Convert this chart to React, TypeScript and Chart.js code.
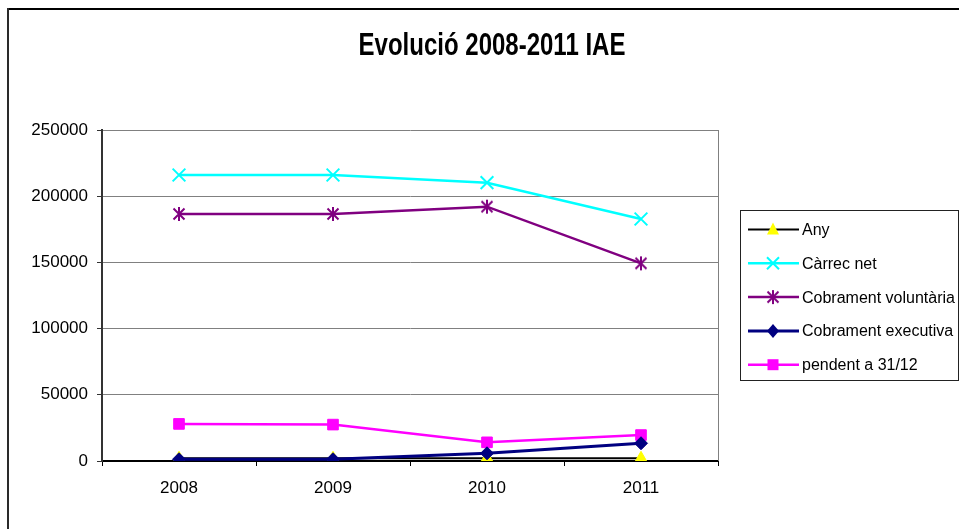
import React, { useEffect, useRef } from "react";
import { Chart, registerables } from "chart.js";

Chart.register(...registerables);

const titleText = "Evolució 2008-2011 IAE";
const categories = ["2008", "2009", "2010", "2011"];
const seriesNames = ["Any", "Càrrec net", "Cobrament voluntària", "Cobrament executiva", "pendent a 31/12"];
const anyValues = [2008, 2009, 2010, 2011];
const carrecNet = [216000, 216000, 210200, 182800];
const cobVoluntaria = [186600, 186600, 192100, 149300];
const cobExecutiva = [1300, 1300, 5800, 13400];
const pendent = [28000, 27500, 14100, 19600];
const yMin = 0;
const yMax = 250000;
const yStep = 50000;

const FONT = '"Liberation Sans", Arial, sans-serif';

function makeStar(color: string): HTMLCanvasElement {
  const c = document.createElement("canvas");
  c.width = 16;
  c.height = 16;
  const g = c.getContext("2d")!;
  g.strokeStyle = color;
  g.lineWidth = 2;
  g.beginPath();
  g.moveTo(8, 1);
  g.lineTo(8, 15);
  g.moveTo(2.5, 2.5);
  g.lineTo(13.5, 13.5);
  g.moveTo(13.5, 2.5);
  g.lineTo(2.5, 13.5);
  g.stroke();
  return c;
}

function drawMarker(ctx: CanvasRenderingContext2D, style: any, x: number, y: number, color: string) {
  ctx.save();
  ctx.fillStyle = color;
  ctx.strokeStyle = color;
  ctx.lineWidth = 2;
  if (style === "triangle") {
    ctx.beginPath();
    ctx.moveTo(x, y - 7);
    ctx.lineTo(x + 6, y + 5);
    ctx.lineTo(x - 6, y + 5);
    ctx.closePath();
    ctx.fill();
  } else if (style === "crossRot") {
    ctx.beginPath();
    ctx.moveTo(x - 6, y - 6);
    ctx.lineTo(x + 6, y + 6);
    ctx.moveTo(x + 6, y - 6);
    ctx.lineTo(x - 6, y + 6);
    ctx.stroke();
  } else if (style === "rectRot") {
    ctx.beginPath();
    ctx.moveTo(x, y - 7);
    ctx.lineTo(x + 6, y);
    ctx.lineTo(x, y + 7);
    ctx.lineTo(x - 6, y);
    ctx.closePath();
    ctx.fill();
  } else if (style === "rect") {
    ctx.fillRect(x - 5.5, y - 5.5, 11, 11);
  } else if (style instanceof HTMLCanvasElement) {
    ctx.drawImage(style, x - style.width / 2, y - style.height / 2);
  }
  ctx.restore();
}

const decorPlugin = {
  id: "decor",
  beforeDraw(chart: any) {
    const ctx = chart.ctx as CanvasRenderingContext2D;
    ctx.save();
    ctx.fillStyle = "#ffffff";
    ctx.fillRect(0, 0, chart.width, chart.height);
    // outer frame
    ctx.fillStyle = "#000";
    ctx.fillRect(8, 8, chart.width - 8, 2);
    ctx.fillStyle = "#2a2a2a";
    ctx.fillRect(7, 8, 2, chart.height - 8);
    // title
    ctx.fillStyle = "#000";
    ctx.font = "bold 24px " + FONT;
    ctx.textAlign = "center";
    ctx.textBaseline = "middle";
    ctx.translate(492, 46);
    ctx.scale(1, 1.32);
    ctx.fillText(titleText, 0, 0);
    ctx.restore();
  },
  afterDraw(chart: any) {
    const ctx = chart.ctx as CanvasRenderingContext2D;
    const a = chart.chartArea;
    ctx.save();
    // right plot border
    ctx.strokeStyle = "#808080";
    ctx.lineWidth = 1;
    ctx.beginPath();
    ctx.moveTo(a.right + 0.5, a.top);
    ctx.lineTo(a.right + 0.5, a.bottom);
    ctx.stroke();
    // legend
    const lx = 740, ly = 210, lw = 218, lh = 170;
    ctx.strokeStyle = "#222";
    ctx.lineWidth = 1;
    ctx.strokeRect(lx + 0.5, ly + 0.5, lw, lh);
    ctx.font = "16px " + FONT;
    ctx.textBaseline = "middle";
    ctx.textAlign = "left";
    chart.data.datasets.forEach((ds: any, i: number) => {
      const y = 229.5 + i * 33.8;
      ctx.strokeStyle = ds.borderColor;
      ctx.lineWidth = ds.borderWidth;
      ctx.beginPath();
      ctx.moveTo(748, y);
      ctx.lineTo(799, y);
      ctx.stroke();
      drawMarker(ctx, ds.pointStyle, 773, y, ds.pointBorderColor);
      ctx.fillStyle = "#000";
      ctx.fillText(ds.label, 802, y + 1);
    });
    ctx.restore();
  },
};

export default function App() {
  const ref = useRef<HTMLCanvasElement | null>(null);
  useEffect(() => {
    if (!ref.current) return;
    const star = makeStar("#800080");
    const chart = new Chart(ref.current, {
      type: "line",
      data: {
        labels: categories,
        datasets: [
          {
            label: seriesNames[0],
            data: anyValues,
            borderColor: "#000000",
            borderWidth: 2,
            pointStyle: "triangle",
            pointRadius: 7,
            pointBackgroundColor: "#FFFF00",
            pointBorderColor: "#FFFF00",
            pointBorderWidth: 1,
            order: 10,
          },
          {
            label: seriesNames[1],
            data: carrecNet,
            borderColor: "#00FFFF",
            borderWidth: 2.5,
            pointStyle: "crossRot",
            pointRadius: 9,
            pointBackgroundColor: "#00FFFF",
            pointBorderColor: "#00FFFF",
            pointBorderWidth: 2,
            order: 1,
          },
          {
            label: seriesNames[2],
            data: cobVoluntaria,
            borderColor: "#800080",
            borderWidth: 2.5,
            pointStyle: star as any,
            pointBackgroundColor: "#800080",
            pointBorderColor: "#800080",
            order: 1,
          },
          {
            label: seriesNames[3],
            data: cobExecutiva,
            borderColor: "#000080",
            borderWidth: 3,
            pointStyle: "rectRot",
            pointRadius: 6.5,
            pointBackgroundColor: "#000080",
            pointBorderColor: "#000080",
            pointBorderWidth: 1,
            order: 1,
          },
          {
            label: seriesNames[4],
            data: pendent,
            borderColor: "#FF00FF",
            borderWidth: 2.5,
            pointStyle: "rect",
            pointRadius: 7.5,
            pointBackgroundColor: "#FF00FF",
            pointBorderColor: "#FF00FF",
            pointBorderWidth: 1,
            order: 1,
          },
        ],
      },
      options: {
        responsive: true,
        maintainAspectRatio: false,
        animation: false,
        layout: { padding: { left: 0, top: 130, right: 241, bottom: 28 } },
        plugins: {
          legend: { display: false },
          title: { display: false },
          tooltip: { enabled: false },
        },
        scales: {
          x: {
            offset: true,
            grid: {
              display: true,
              offset: true,
              drawOnChartArea: false,
              drawTicks: true,
              tickLength: 5,
              tickColor: "#000",
            },
            border: { display: true, color: "#000", width: 2 },
            ticks: { color: "#000", font: { family: FONT, size: 17 }, padding: 12 },
            afterFit: (s: any) => {
              s.height = 40;
            },
          },
          y: {
            min: yMin,
            max: yMax,
            ticks: {
              stepSize: yStep,
              color: "#000",
              font: { family: FONT, size: 17 },
              padding: 9,
              callback: (v: any) => String(v),
            },
            grid: {
              color: "#808080",
              lineWidth: 1,
              tickLength: 5,
              tickColor: "#333",
            },
            border: { display: true, color: "#333", width: 2 },
            afterFit: (s: any) => {
              s.width = 102;
            },
          },
        },
      },
      plugins: [decorPlugin],
    });
    return () => chart.destroy();
  }, []);
  return (
    <div style={{ position: "absolute", left: 0, top: 0, width: 959, height: 529 }}>
      <canvas ref={ref} />
    </div>
  );
}
